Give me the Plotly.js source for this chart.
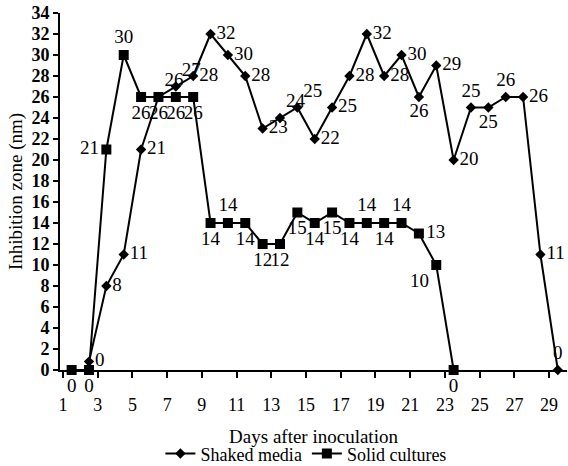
<!DOCTYPE html>
<html>
<head>
<meta charset="utf-8">
<script src="https://cdn.plot.ly/plotly-3.0.1.min.js"></script>
<style>
html,body{margin:0;padding:0;background:#fff;}
#chart{width:568px;height:466px;}
</style>
</head>
<body>
<div id="chart"></div>
<script>
// ---- data ----
const solidDays   = [1.5, 2.5, 3.5, 4.5, 5.5, 6.5, 7.5, 8.5, 9.5, 10.5, 11.5, 12.5, 13.5, 14.5, 15.5, 16.5, 17.5, 18.5, 19.5, 20.5, 21.5, 22.5, 23.5];
const solidValues = [0, 0, 21, 30, 26, 26, 26, 26, 14, 14, 14, 12, 12, 15, 14, 15, 14, 14, 14, 14, 13, 10, 0];
const solidLabels = ["0","0","21","30","26","26","26","26","14","14","14","12","12","15","14","15","14","14","14","14","13","10","0"];

const shakedDays   = [2.5, 3.5, 4.5, 5.5, 6.5, 7.5, 8.5, 9.5, 10.5, 11.5, 12.5, 13.5, 14.5, 15.5, 16.5, 17.5, 18.5, 19.5, 20.5, 21.5, 22.5, 23.5, 24.5, 25.5, 26.5, 27.5, 28.5, 29.5];
const shakedValues = [0.8, 8, 11, 21, 26, 27, 28, 32, 30, 28, 23, 24, 25, 22, 25, 28, 32, 28, 30, 26, 29, 20, 25, 25, 26, 26, 11, 0];
const shakedLabels = ["0","8","11","21","26","27","28","32","30","28","23","24","25","22","25","28","32","28","30","26","29","20","25","25","26","26","11","0"];

const xTickVals = [1, 3, 5, 7, 9, 11, 13, 15, 17, 19, 21, 23, 25, 27, 29];
const yTickVals = [0, 2, 4, 6, 8, 10, 12, 14, 16, 18, 20, 22, 24, 26, 28, 30, 32, 34];

const seriesNames = ["Shaked media", "Solid cultures"];
const xTitle = "Days after inoculation";
const yTitle = "Inhibition zone (nm)";

// ---- label placement (style) ----
const solidTextPos = ["bottom center","bottom center","middle left","top center",
  "bottom center","bottom center","bottom center","bottom center",
  "bottom center","top center","bottom center","bottom center","bottom center",
  "bottom center","bottom center","bottom center","bottom center","top center",
  "bottom center","top center","middle right","bottom left","bottom center"];
const shakedTextPos = ["middle right","middle right","middle right","middle right",
  "top right","top right","middle right","middle right","middle right","middle right",
  "middle right","top right","top right","middle right","middle right","middle right",
  "middle right","middle right","middle right","bottom center","middle right",
  "middle right","top center","bottom center","top center","middle right",
  "middle right","top center"];

const FONT = "Liberation Serif";

const traces = [
  {
    x: shakedDays, y: shakedValues, name: seriesNames[0],
    type: "scatter", mode: "lines+markers",
    line: {color: "#000", width: 2},
    marker: {symbol: "diamond", size: 8, color: "#000"},
    cliponaxis: false, hoverinfo: "skip"
  },
  {
    x: solidDays, y: solidValues, name: seriesNames[1],
    type: "scatter", mode: "lines+markers",
    line: {color: "#000", width: 2},
    marker: {symbol: "square", size: 10, color: "#000"},
    cliponaxis: false, hoverinfo: "skip"
  },
  {
    x: shakedDays, y: shakedValues, text: shakedLabels,
    type: "scatter", mode: "markers+text", showlegend: false,
    marker: {size: 8, opacity: 0},
    textposition: shakedTextPos,
    textfont: {family: FONT, size: 19, color: "#000"},
    cliponaxis: false, hoverinfo: "skip"
  },
  {
    x: solidDays, y: solidValues, text: solidLabels,
    type: "scatter", mode: "markers+text", showlegend: false,
    marker: {size: 10, opacity: 0},
    textposition: solidTextPos,
    textfont: {family: FONT, size: 19, color: "#000"},
    cliponaxis: false, hoverinfo: "skip"
  }
];

const layout = {
  width: 568, height: 466,
  margin: {l: 60, r: 1, t: 13, b: 96, autoexpand: false},
  paper_bgcolor: "#fff", plot_bgcolor: "#fff",
  font: {family: FONT, size: 19, color: "#000"},
  showlegend: true,
  legend: {
    orientation: "h", x: 0.485, xanchor: "center", y: -0.183, yanchor: "top",
    font: {family: FONT, size: 18, color: "#000"},
    itemwidth: 30, tracegroupgap: 0
  },
  xaxis: {
    range: [0.83, 30.03],
    tickmode: "array", tickvals: xTickVals,
    ticks: "outside", ticklen: 6, tickwidth: 2, tickcolor: "#000",
    showline: true, linewidth: 2, linecolor: "#000",
    showgrid: false, zeroline: false, automargin: false,
    ticklabelstandoff: 11,
    tickfont: {family: FONT, size: 18, color: "#000"},
    title: {text: xTitle, font: {family: FONT, size: 19, color: "#000"}, standoff: 16}
  },
  yaxis: {
    range: [0, 34],
    tickmode: "array", tickvals: yTickVals,
    ticks: "outside", ticklen: 5, tickwidth: 2, tickcolor: "#000",
    showline: true, linewidth: 2, linecolor: "#000",
    showgrid: false, zeroline: false, automargin: false,
    tickfont: {family: FONT, size: 18, color: "#000", weight: "bold"},
    title: {text: yTitle, font: {family: FONT, size: 19, color: "#000"}, standoff: 4}
  }
};

Plotly.newPlot("chart", traces, layout, {staticPlot: true, displayModeBar: false});
</script>
</body>
</html>
